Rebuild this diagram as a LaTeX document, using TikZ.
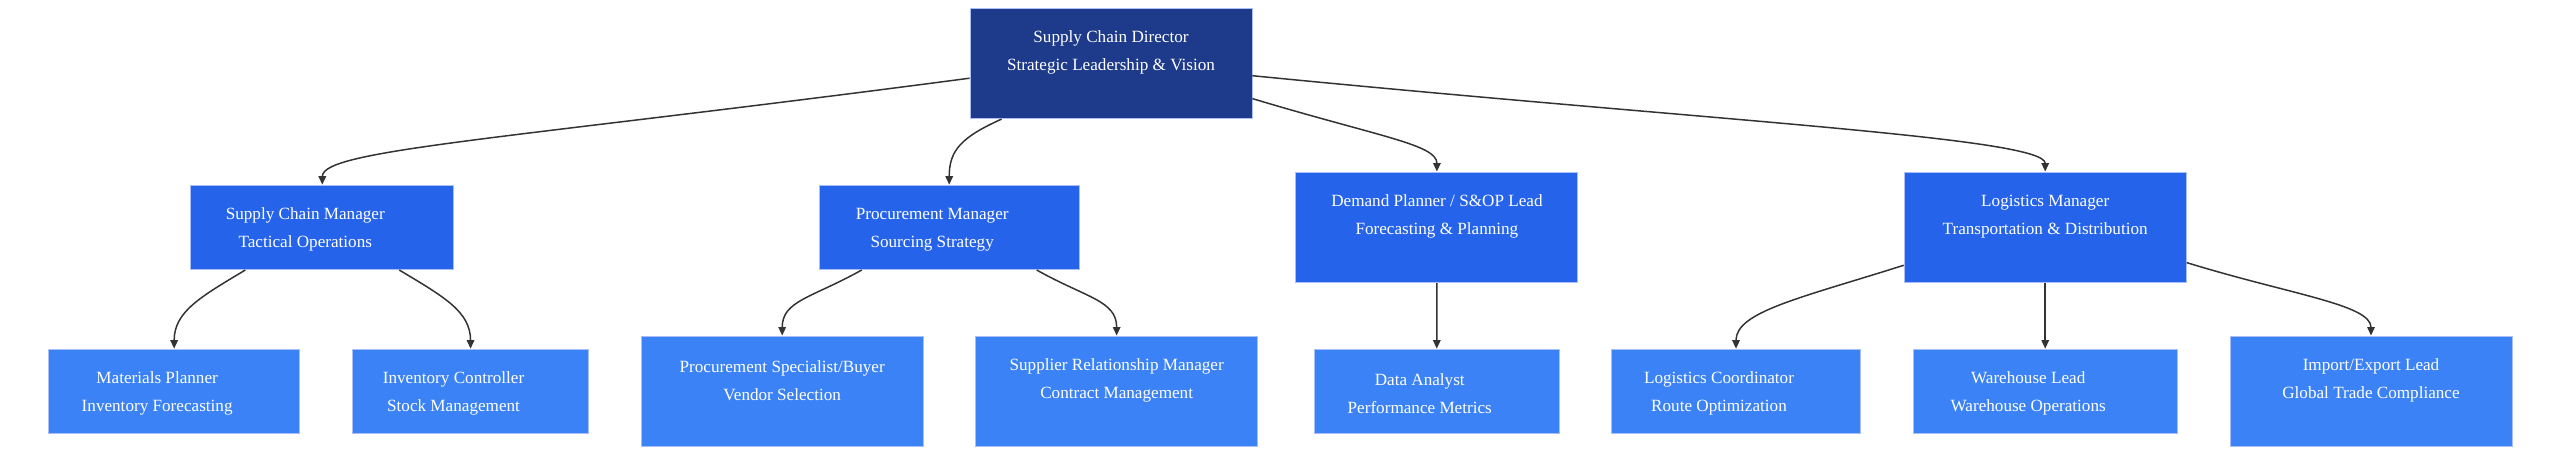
\documentclass[tikz,border=0pt]{standalone}
\usepackage{fontspec}
\setmainfont{Liberation Serif}
\usetikzlibrary{arrows.meta}
\definecolor{SCNavy}{HTML}{1E3A8A}
\definecolor{SCBlue}{HTML}{2563EB}
\definecolor{SCSky}{HTML}{3B82F6}
\definecolor{SCEdge}{HTML}{A9BFF5}
\definecolor{SCInk}{HTML}{333333}

\begin{document}
\begin{tikzpicture}[
      >={Triangle[length=1.7mm,width=1.5mm]},
      role/.style={draw=SCEdge,line width=0.5pt,inner sep=0pt,minimum height=1.69cm},
      tall/.style={minimum width=5.64cm,minimum height=2.214cm},
      lead/.style={role,tall,fill=SCNavy},
      mgr/.style={role,fill=SCBlue},
      staff/.style={role,fill=SCSky},
      txt/.style={text=white,align=center,font=\fontsize{9.75}{15.9}\selectfont},
      link/.style={->,draw=SCInk,line width=0.85pt}
    ]
    \path[use as bounding box] (0,0) rectangle (51.2,-9.1);

    % director
    \node[lead] (dir) at (22.22,-1.267) {};
    \node[txt,yshift=0.21cm] (dirT) at (dir) {Supply Chain Director\\Strategic Leadership \& Vision};

    % managers
    \node[mgr,minimum width=5.26cm] (scm) at (6.446,-4.547) {};
    \node[txt,xshift=-0.34cm,yshift=-0.05cm] (scmT) at (scm) {Supply Chain Manager\\Tactical Operations};
    \node[mgr,minimum width=5.21cm] (pm) at (18.984,-4.547) {};
    \node[txt,xshift=-0.34cm,yshift=-0.05cm] (pmT) at (pm) {Procurement Manager\\Sourcing Strategy};
    \node[mgr,tall] (dem) at (28.738,-4.547) {};
    \node[txt,yshift=0.21cm] (demT) at (dem) {Demand Planner / S\&OP Lead\\Forecasting \& Planning};
    \node[mgr,tall] (log) at (40.904,-4.547) {};
    \node[txt,yshift=0.21cm] (logT) at (log) {Logistics Manager\\Transportation \& Distribution};

    % staff
    \node[staff,minimum width=5.03cm] (mat) at (3.483,-7.827) {};
    \node[txt,xshift=-0.34cm,yshift=-0.05cm] (matT) at (mat) {Materials Planner\\Inventory Forecasting};
    \node[staff,minimum width=4.71cm] (inv) at (9.411,-7.827) {};
    \node[txt,xshift=-0.34cm,yshift=-0.05cm] (invT) at (inv) {Inventory Controller\\Stock Management};
    \node[staff,tall] (spec) at (15.644,-7.827) {};
    \node[txt,yshift=0.21cm] (specT) at (spec) {Procurement Specialist/Buyer\\Vendor Selection};
    \node[staff,tall] (srm) at (22.333,-7.827) {};
    \node[txt,yshift=0.21cm] (srmT) at (srm) {Supplier Relationship Manager\\Contract Management};
    \node[staff,minimum width=4.89cm] (ana) at (28.735,-7.827) {};
    \node[txt,xshift=-0.34cm,yshift=-0.05cm] (anaT) at (ana) {Data Analyst\\Performance Metrics};
    \node[staff,minimum width=4.97cm] (lco) at (34.72,-7.827) {};
    \node[txt,xshift=-0.34cm,yshift=-0.05cm] (lcoT) at (lco) {Logistics Coordinator\\Route Optimization};
    \node[staff,minimum width=5.29cm] (whl) at (40.904,-7.827) {};
    \node[txt,xshift=-0.34cm,yshift=-0.05cm] (whlT) at (whl) {Warehouse Lead\\Warehouse Operations};
    \node[staff,tall] (imx) at (47.42,-7.827) {};
    \node[txt,yshift=0.21cm] (imxT) at (imx) {Import/Export Lead\\Global Trade Compliance};

    % links
    \draw[link] (dir.186) .. controls +(-9.41,-1.24) and +(0,0.7) .. (scm.north);
    \draw[link] (dir.207) .. controls +(-0.8,-0.36) and +(0,0.69) .. (pm.north);
    \draw[link] (dir.346) .. controls +(2.56,-0.77) and +(0,0.54) .. (dem.north);
    \draw[link] (dir.355) .. controls +(9.36,-0.92) and +(0,0.68) .. (log.north);
    \draw[link] (scm.209) .. controls +(-0.9,-0.54) and +(0,0.74) .. (mat.north);
    \draw[link] (scm.331) .. controls +(0.9,-0.54) and +(0,0.74) .. (inv.north);
    \draw[link] (pm.206) .. controls +(-1.0,-0.56) and +(0,0.7) .. (spec.north);
    \draw[link] (pm.334) .. controls +(1.0,-0.56) and +(0,0.7) .. (srm.north);
    \draw[link] (dem.south) -- (ana.north);
    \draw[link] (log.195) .. controls +(-2.08,-0.66) and +(0,0.74) .. (lco.north);
    \draw[link] (log.south) -- (whl.north);
    \draw[link] (log.346) .. controls +(2.08,-0.64) and +(0,0.62) .. (imx.north);
  \end{tikzpicture}
\end{document}
